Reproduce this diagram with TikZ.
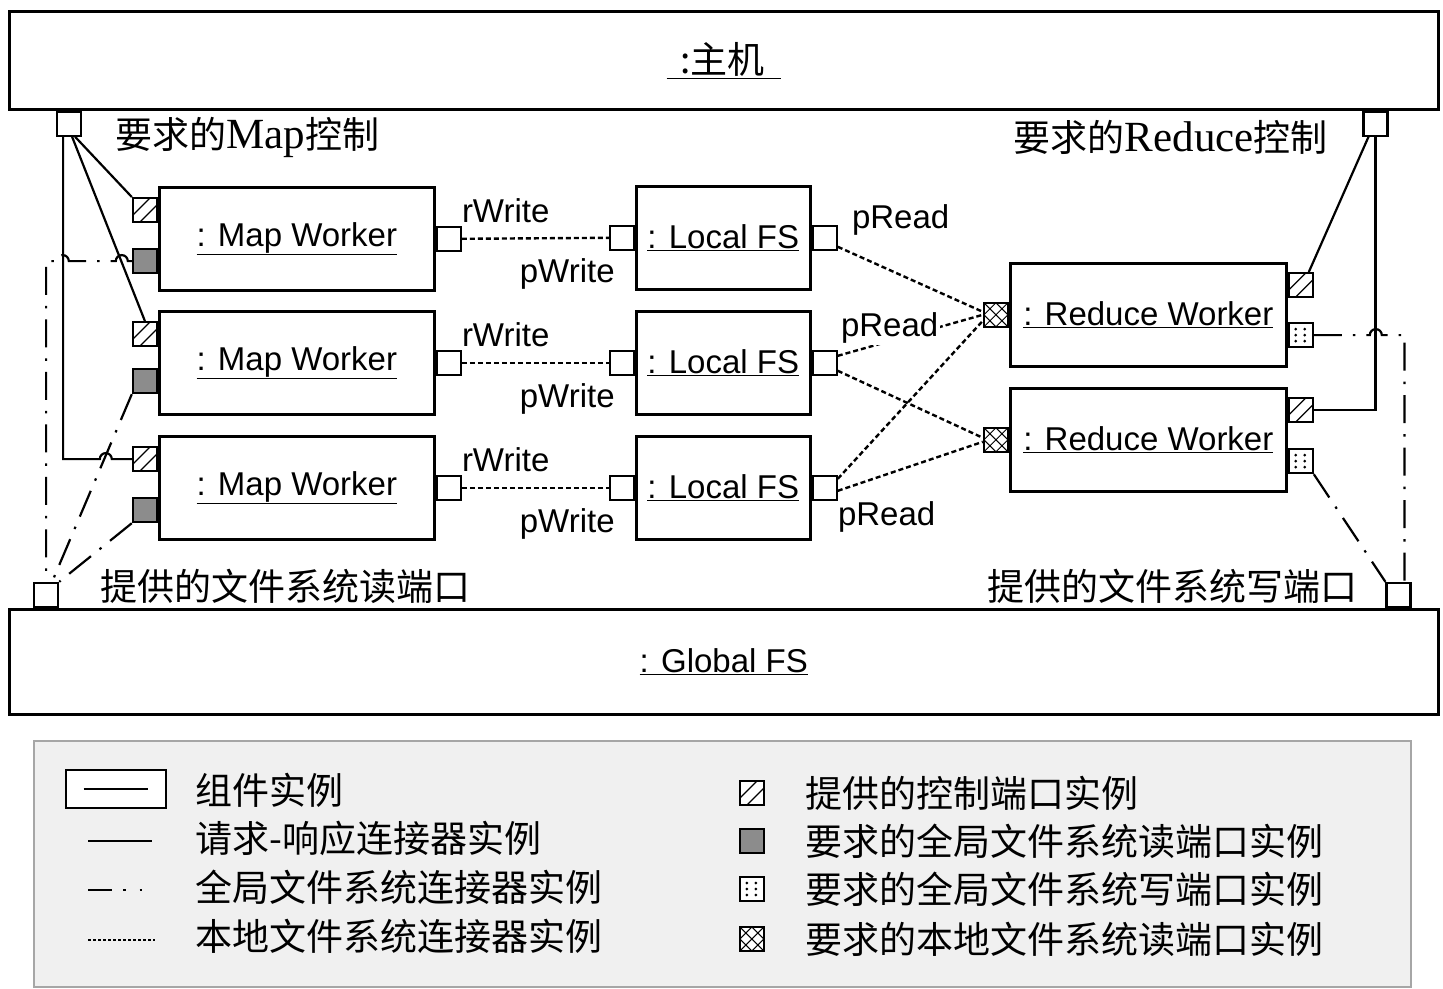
\documentclass[tikz,border=0pt]{standalone}
\usepackage{fontspec}
\setmainfont{Liberation Sans}
\newfontfamily\cjk{Noto Sans CJK SC}
\newfontfamily\latinserif{Liberation Serif}
\usetikzlibrary{positioning, calc}

\newcommand{\instname}[1]{\underline{#1}}
\newcommand{\latinpart}[1]{{\latinserif\fontsize{43}{42}\selectfont #1}}

\begin{document}
\begin{tikzpicture}[
    x=1pt, y=1pt,
    font=\fontsize{33}{38}\selectfont,
    comp/.style={draw, line width=2.6pt, fill=white, inner sep=0pt},
    worker/.style={comp, minimum width=275pt, minimum height=103pt, anchor=north west},
    localfs/.style={comp, minimum width=174pt, minimum height=103pt, anchor=north west},
    port/.style={draw, line width=2.2pt, fill=white, minimum size=24pt, inner sep=0pt},
    ctrlport/.style={port, path picture={
        \draw[line width=1.3pt] ([yshift=7pt]path picture bounding box.south west) -- ++(17pt,17pt)
            ([xshift=7pt]path picture bounding box.south west) -- ++(17pt,17pt);}},
    readport/.style={port, fill=black!45},
    writeport/.style={port, path picture={
        \fill[black] ($(path picture bounding box.south west)+(7pt,6pt)$) circle (1.5pt)
            ($(path picture bounding box.south west)+(7pt,12pt)$) circle (1.5pt)
            ($(path picture bounding box.south west)+(7pt,18pt)$) circle (1.5pt)
            ($(path picture bounding box.south west)+(16pt,6pt)$) circle (1.5pt)
            ($(path picture bounding box.south west)+(16pt,12pt)$) circle (1.5pt)
            ($(path picture bounding box.south west)+(16pt,18pt)$) circle (1.5pt);}},
    localport/.style={port, path picture={
        \draw[line width=1pt] (path picture bounding box.south west) -- (path picture bounding box.north east)
            (path picture bounding box.north west) -- (path picture bounding box.south east)
            (path picture bounding box.west) -- (path picture bounding box.north) -- (path picture bounding box.east)
            -- (path picture bounding box.south) -- cycle;}},
    req/.style={line width=2.2pt},
    gfs/.style={line width=2.2pt, dash pattern=on 28pt off 11pt on 2.5pt off 11pt},
    lfs/.style={line width=2.4pt, dash pattern=on 5pt off 3pt},
    cjklbl/.style={font=\cjk\fontsize{37}{42}\selectfont, inner sep=0pt},
    portlbl/.style={inner sep=0pt}
]
  \useasboundingbox (0,0) rectangle (1443,-988);

  % host and global file system
  \node[comp, minimum width=1429pt, minimum height=98pt, anchor=north west,
        font=\cjk\fontsize{37}{42}\selectfont] (host) at (8,-10) {\instname{\hspace{14pt}:主机\hspace{16pt}}};
  \node[comp, minimum width=1429pt, minimum height=105pt, anchor=north west] (gfs) at (8,-608) {\instname{: Global FS}};

  \node[port, anchor=north west] (hostl) at ([xshift=48pt]host.south west) {};
  \node[port, anchor=north east] (hostr) at ([xshift=-51pt]host.south east) {};
  \node[port, anchor=south west] (gfsl) at ([xshift=25pt]gfs.north west) {};
  \node[port, anchor=south east] (gfsr) at ([xshift=-28pt]gfs.north east) {};

  % map workers
  \node[worker] (mw1) at (158,-186) {\instname{: Map Worker}};
  \node[worker] (mw2) at (158,-310) {\instname{: Map Worker}};
  \node[worker] (mw3) at (158,-435) {\instname{: Map Worker}};

  \node[ctrlport, anchor=north east] (mw1c) at ([yshift=-11pt]mw1.north west) {};
  \node[readport, anchor=north east] (mw1r) at ([yshift=-62pt]mw1.north west) {};
  \node[port, anchor=west] (mw1w) at (mw1.east) {};
  \node[ctrlport, anchor=north east] (mw2c) at ([yshift=-11pt]mw2.north west) {};
  \node[readport, anchor=north east] (mw2r) at ([yshift=-58pt]mw2.north west) {};
  \node[port, anchor=west] (mw2w) at (mw2.east) {};
  \node[ctrlport, anchor=north east] (mw3c) at ([yshift=-11pt]mw3.north west) {};
  \node[readport, anchor=north east] (mw3r) at ([yshift=-62pt]mw3.north west) {};
  \node[port, anchor=west] (mw3w) at (mw3.east) {};

  % local file systems
  \node[localfs] (lf1) at (635,-185) {\instname{: Local FS}};
  \node[localfs] (lf2) at (635,-310) {\instname{: Local FS}};
  \node[localfs] (lf3) at (635,-435) {\instname{: Local FS}};

  \node[port, anchor=east] (lf1w) at (lf1.west) {};
  \node[port, anchor=west] (lf1r) at (lf1.east) {};
  \node[port, anchor=east] (lf2w) at (lf2.west) {};
  \node[port, anchor=west] (lf2r) at (lf2.east) {};
  \node[port, anchor=east] (lf3w) at (lf3.west) {};
  \node[port, anchor=west] (lf3r) at (lf3.east) {};

  % reduce workers
  \node[worker, minimum width=276pt] (rw1) at (1009,-262) {\instname{: Reduce Worker}};
  \node[worker, minimum width=276pt] (rw2) at (1009,-387) {\instname{: Reduce Worker}};

  \node[localport, anchor=east] (rw1l) at (rw1.west) {};
  \node[ctrlport, anchor=north west] (rw1c) at ([yshift=-10pt]rw1.north east) {};
  \node[writeport, anchor=north west] (rw1w) at ([yshift=-60pt]rw1.north east) {};
  \node[localport, anchor=east] (rw2l) at (rw2.west) {};
  \node[ctrlport, anchor=north west] (rw2c) at ([yshift=-10pt]rw2.north east) {};
  \node[writeport, anchor=north west] (rw2w) at ([yshift=-61pt]rw2.north east) {};

  % request-response connectors
  \draw[req] ([xshift=-6pt]hostl.south) |- ([xshift=-32pt]mw3c.west)
      arc[start angle=180, end angle=0, radius=6pt] -- (mw3c.west);
  \draw[req] ([xshift=6pt]hostl.south) -- (mw1c.north west);
  \draw[req] ([xshift=3pt]hostl.south) -- (mw2c.north);
  \draw[req] ([xshift=-5pt]rw1c.north east) -- ([xshift=-7pt]hostr.south);
  \draw[req] (rw2c.east) -| (hostr.south);

  % global file system connectors
  \draw[gfs] (mw1r.west) -- ++(-4pt,0) arc[start angle=0, end angle=180, radius=6pt]
      -- ++(-47pt,0) arc[start angle=0, end angle=180, radius=6pt] -| (gfsl.north);
  \draw[gfs] (mw2r.south west) -- ([xshift=6pt]gfsl.north);
  \draw[gfs] (mw3r.south west) -- (gfsl.north east);
  \draw[gfs] (rw1w.east) -- ++(56pt,0) arc[start angle=180, end angle=0, radius=6pt]
      -| ([xshift=6pt]gfsr.north);
  \draw[gfs] (rw2w.south east) -- (gfsr.north west);

  % local file system connectors
  \draw[lfs] (mw1w.east) -- (lf1w.west);
  \draw[lfs] (mw2w.east) -- (lf2w.west);
  \draw[lfs] (mw3w.east) -- (lf3w.west);
  \draw[lfs] ([yshift=-9pt]lf1r.east) -- ([yshift=3pt]rw1l.west);
  \draw[lfs] ([yshift=7pt]lf2r.east) -- (rw1l.west);
  \draw[lfs] ([yshift=-8pt]lf2r.east) -- ([yshift=2pt]rw2l.west);
  \draw[lfs] ([yshift=9pt]lf3r.east) -- ([yshift=-6pt]rw1l.west);
  \draw[lfs] ([yshift=-3pt]lf3r.east) -- ([yshift=-2pt]rw2l.west);

  % port labels
  \node[portlbl, anchor=south west] (rwrite1) at ([yshift=3pt]mw1w.north east) {rWrite};
  \node[portlbl, anchor=south west] (rwrite2) at ([yshift=3pt]mw2w.north east) {rWrite};
  \node[portlbl, anchor=south west] (rwrite3) at ([yshift=3pt]mw3w.north east) {rWrite};
  \node[portlbl, anchor=north east] (pwrite1) at ([xshift=6pt, yshift=-7pt]lf1w.south west) {pWrite};
  \node[portlbl, anchor=north east] (pwrite2) at ([xshift=6pt, yshift=-7pt]lf2w.south west) {pWrite};
  \node[portlbl, anchor=north east] (pwrite3) at ([xshift=6pt, yshift=-7pt]lf3w.south west) {pWrite};
  \node[portlbl, anchor=west] (pread1) at ([xshift=14pt, yshift=18pt]lf1r.east) {pRead};
  \node[portlbl, anchor=west, fill=white, inner sep=2pt] (pread2) at ([xshift=1pt, yshift=35pt]lf2r.east) {pRead};
  \node[portlbl, anchor=west] (pread3) at ([yshift=-29pt]lf3r.east) {pRead};

  \node[cjklbl, anchor=west] (mapctl) at (115,-137) {要求的\latinpart{Map}控制};
  \node[cjklbl, anchor=east] (redctl) at (1328,-137) {要求的\latinpart{Reduce}控制};
  \node[cjklbl, anchor=west] (readprt) at (100,-586) {提供的文件系统读端口};
  \node[cjklbl, anchor=east] (writeprt) at (1358,-586) {提供的文件系统写端口};

  % legend
  \node[draw=gray!70, line width=1.5pt, fill=gray!12, minimum width=1377pt, minimum height=246pt,
        anchor=north west] (legend) at (33,-740) {};

  \node[cjklbl, anchor=west] (lgcomp) at (195,-790) {组件实例};
  \node[comp, minimum width=100pt, minimum height=38pt] (lgcompsym) at (116,-789) {};
  \draw[line width=1.3pt] ([xshift=19pt]lgcompsym.west) -- ([xshift=-19pt]lgcompsym.east);
  \node[cjklbl, anchor=west] (lgreq) at (195,-838) {请求-响应连接器实例};
  \draw[req, line width=2.8pt] ([xshift=-107pt, yshift=-3pt]lgreq.west) -- ([xshift=-43pt, yshift=-3pt]lgreq.west);
  \node[cjklbl, anchor=west] (lggfs) at (195,-887) {全局文件系统连接器实例};
  \draw[gfs, dash pattern=on 24pt off 11pt on 2.5pt off 14pt on 2.5pt off 20pt]
      ([xshift=-107pt, yshift=-3pt]lggfs.west) -- ([xshift=-43pt, yshift=-3pt]lggfs.west);
  \node[cjklbl, anchor=west] (lglfs) at (195,-936) {本地文件系统连接器实例};
  \draw[lfs, line width=1.8pt, dash pattern=on 3pt off 2pt]
      ([xshift=-107pt, yshift=-4pt]lglfs.west) -- ([xshift=-40pt, yshift=-4pt]lglfs.west);

  \node[cjklbl, anchor=west] (lgctrl) at (805,-793) {提供的控制端口实例};
  \node[ctrlport, left=40pt of lgctrl] (lgctrlsym) {};
  \node[cjklbl, anchor=west] (lgread) at (805,-841) {要求的全局文件系统读端口实例};
  \node[readport, left=40pt of lgread] (lgreadsym) {};
  \node[cjklbl, anchor=west] (lgwrite) at (805,-889) {要求的全局文件系统写端口实例};
  \node[writeport, left=40pt of lgwrite] (lgwritesym) {};
  \node[cjklbl, anchor=west] (lglocal) at (805,-939) {要求的本地文件系统读端口实例};
  \node[localport, left=40pt of lglocal] (lglocalsym) {};
\end{tikzpicture}
\end{document}
